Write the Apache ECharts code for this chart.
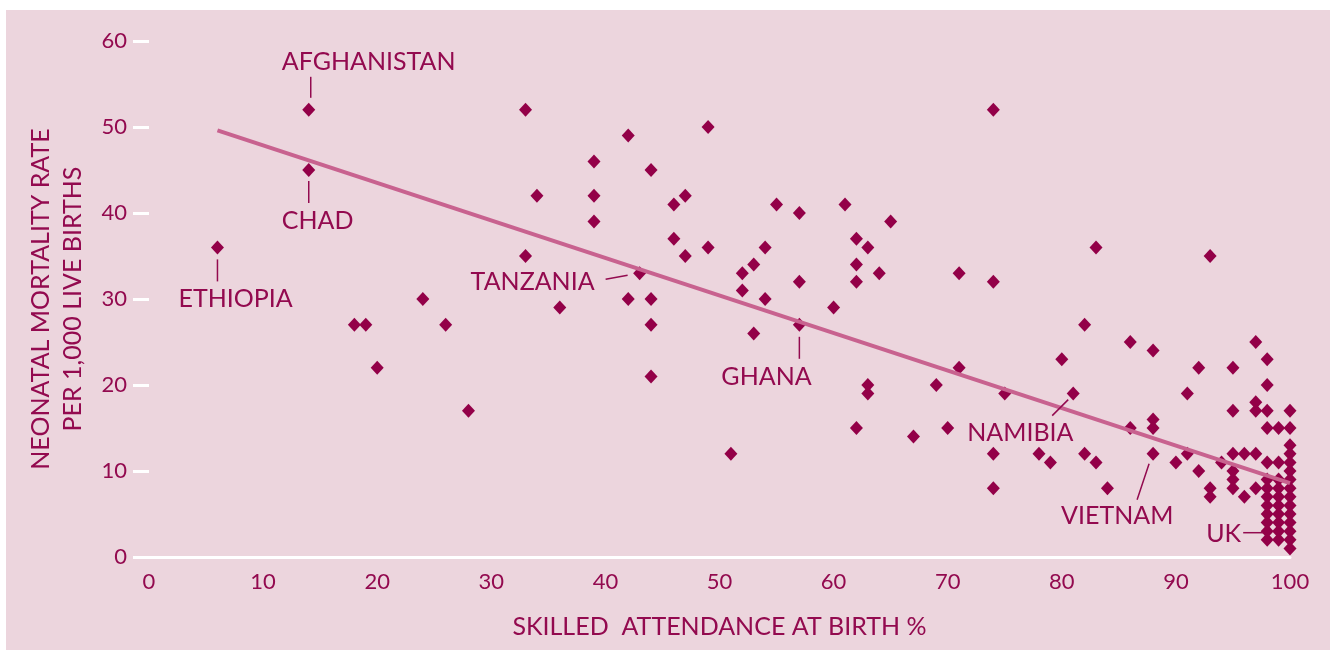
<!DOCTYPE html>
<html>
<head>
<meta charset="utf-8">
<title>Neonatal mortality vs skilled attendance</title>
<script src="https://cdn.jsdelivr.net/npm/echarts@6/dist/echarts.min.js"></script>
<style>
  html, body { margin: 0; padding: 0; background: #ffffff; }
  #chart { position: absolute; left: 6px; top: 10px; width: 1324px; height: 640px; background: #ecd5dd; }
</style>
</head>
<body>
<div id="chart"></div>
<script>
// data
var attendance = [
  6, 14, 14, 18, 19, 20, 24, 26, 28,
  33, 33, 34, 36, 39, 39, 39,
  42, 42, 43, 44, 44, 44, 44,
  46, 46, 47, 47, 49, 49,
  51, 52, 52, 53, 53, 54, 54, 55,
  57, 57, 57, 60, 61, 62, 62, 62, 62,
  63, 63, 63, 64, 65,
  67, 69, 70, 71, 71,
  74, 74, 74, 74, 75,
  78, 79, 80, 81, 82, 82, 83, 83, 84,
  86, 86, 88, 88, 88, 88,
  90, 91, 91, 92, 92, 93, 93, 93, 94,
  95, 95, 95, 95, 95, 95,
  96, 96, 97, 97, 97, 97, 97,
  98, 98, 98, 98, 98, 98, 98, 98, 98, 98, 98, 98, 98,
  99, 99, 99, 99, 99, 99, 99, 99, 99, 99,
  100, 100, 100, 100, 100, 100, 100, 100, 100, 100, 100, 100, 100, 100, 100
];
var mortality = [
  36, 52, 45, 27, 27, 22, 30, 27, 17,
  52, 35, 42, 29, 46, 42, 39,
  49, 30, 33, 45, 30, 27, 21,
  41, 37, 42, 35, 50, 36,
  12, 33, 31, 34, 26, 36, 30, 41,
  40, 32, 27, 29, 41, 37, 34, 32, 15,
  36, 20, 19, 33, 39,
  14, 20, 15, 33, 22,
  52, 32, 12, 8, 19,
  12, 11, 23, 19, 27, 12, 36, 11, 8,
  25, 15, 24, 16, 15, 12,
  11, 19, 12, 22, 10, 35, 8, 7, 11,
  22, 17, 12, 10, 9, 8,
  12, 7, 25, 18, 17, 12, 8,
  2, 3, 4, 5, 6, 7, 8, 9, 11, 15, 17, 20, 23,
  2, 3, 4, 5, 6, 7, 8, 9, 11, 15,
  1, 2, 3, 4, 5, 6, 7, 8, 9, 10, 11, 12, 13, 15, 17
];

var countryNames = ['ETHIOPIA', 'AFGHANISTAN', 'CHAD', 'TANZANIA', 'GHANA', 'NAMIBIA', 'VIETNAM', 'UK'];
var countryX = [6, 14, 14, 43, 57, 81, 88, 98];
var countryY = [36, 52, 45, 33, 27, 19, 12, 3];

// fitted trend line end points
var trendX = [6, 100];
var trendY = [49.6, 8.6];

var xTicks = [0, 10, 20, 30, 40, 50, 60, 70, 80, 90, 100];
var yTicks = [0, 10, 20, 30, 40, 50, 60];

var ink = '#930a4f';
var font = 'Lato';

// label placement, pixel offsets from the marked point
var callouts = {
  'ETHIOPIA':    { dx: -39, dy: 52, align: 'left',  line: [0, 12, 0, 34] },
  'AFGHANISTAN': { dx: -27, dy: -48, align: 'left', line: [2, -33, 2, -12] },
  'CHAD':        { dx: -27, dy: 51, align: 'left',  line: [0, 11, 0, 33] },
  'TANZANIA':    { dx: -45, dy: 9, align: 'right',  line: [-34, 6, -12, 2] },
  'GHANA':       { dx: -78, dy: 52, align: 'left',  line: [0, 12, 0, 34] },
  'NAMIBIA':     { dx: -106, dy: 39, align: 'left', line: [-5, 6, -21, 22] },
  'VIETNAM':     { dx: -92, dy: 62, align: 'left',  line: [-4, 10, -16, 46] },
  'UK':          { dx: -26, dy: 3, align: 'right',  line: [-24, 1.5, -4, 1.5] }
};

var points = attendance.map(function (v, i) { return [v, mortality[i]]; });
var trend = trendX.map(function (v, i) { return [v, trendY[i]]; });

var myChart = echarts.init(document.getElementById('chart'));

var option = {
  animation: false,
  textStyle: { fontFamily: font, color: ink },
  grid: { left: 143, right: 40, top: 31, bottom: 93, outerBoundsMode: 'none' },
  xAxis: {
    type: 'value',
    min: 0, max: 100, interval: 10,
    name: 'SKILLED  ATTENDANCE AT BIRTH %',
    nameLocation: 'middle',
    nameGap: 57,
    nameTextStyle: { fontSize: 25, color: ink, fontFamily: font },
    axisLine: { show: true, lineStyle: { color: '#ffffff', width: 3 } },
    axisTick: { show: false },
    splitLine: { show: false },
    axisLabel: {
      margin: 14, fontSize: 22, color: ink, fontFamily: font,
      formatter: function (v) { return xTicks.indexOf(v) >= 0 ? String(v) : ''; }
    }
  },
  yAxis: {
    type: 'value',
    min: 0, max: 60, interval: 10,
    name: 'NEONATAL MORTALITY RATE\nPER 1,000 LIVE BIRTHS',
    nameLocation: 'middle',
    nameGap: 60,
    nameRotate: 90,
    nameTextStyle: { fontSize: 25, color: ink, fontFamily: font, lineHeight: 32 },
    axisLine: { show: false },
    axisTick: { show: true, length: 16, lineStyle: { color: '#ffffff', width: 3 } },
    splitLine: { show: false },
    axisLabel: {
      margin: 22, fontSize: 22, color: ink, fontFamily: font,
      formatter: function (v) { return yTicks.indexOf(v) >= 0 ? String(v) : ''; }
    }
  },
  series: [
    {
      name: 'countries',
      type: 'scatter',
      symbol: 'diamond',
      symbolSize: [13, 14],
      itemStyle: { color: '#930048', opacity: 1 },
      data: points,
      z: 2
    },
    {
      name: 'trend',
      type: 'line',
      symbol: 'none',
      lineStyle: { color: '#c8628f', width: 4 },
      data: trend,
      z: 3
    }
  ]
};

myChart.setOption(option);

// callout labels and leader lines
var graphics = [];
countryNames.forEach(function (name, i) {
  var c = callouts[name];
  var p = myChart.convertToPixel({ gridIndex: 0 }, [countryX[i], countryY[i]]);
  graphics.push({
    type: 'line',
    shape: { x1: p[0] + c.line[0], y1: p[1] + c.line[1], x2: p[0] + c.line[2], y2: p[1] + c.line[3] },
    style: { stroke: ink, lineWidth: 1.5 },
    z: 10
  });
  graphics.push({
    type: 'text',
    x: p[0] + c.dx,
    y: p[1] + c.dy,
    style: {
      text: name,
      fill: ink,
      font: '25px ' + font,
      textAlign: c.align,
      textVerticalAlign: 'middle'
    },
    z: 10
  });
});
myChart.setOption({ graphic: graphics });
</script>
</body>
</html>
